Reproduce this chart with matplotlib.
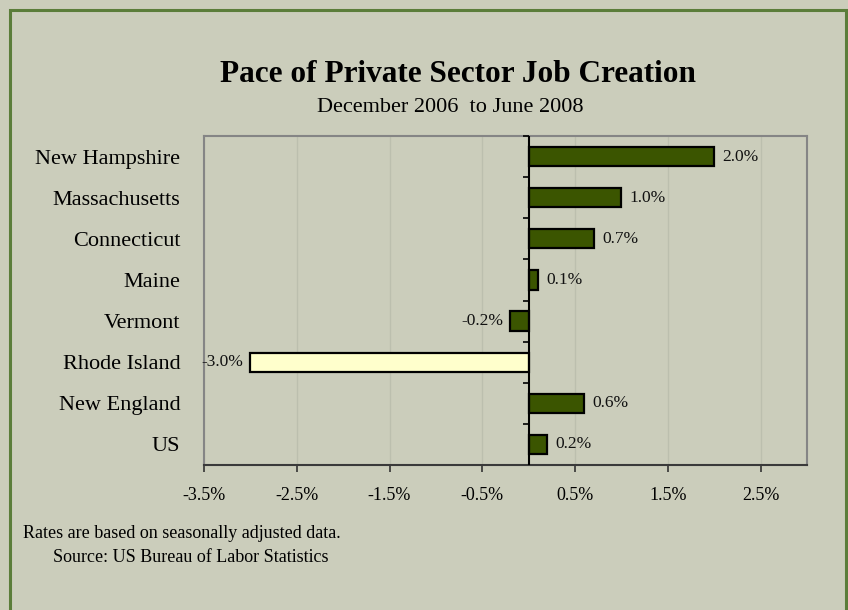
import matplotlib
matplotlib.use('Agg')
from matplotlib import pyplot
from matplotlib import patches
import numpy as np

# job growth, Dec 2006 - Jun 2008 (percent)
regions = ['New Hampshire', 'Massachusetts', 'Connecticut', 'Maine',
           'Vermont', 'Rhode Island', 'New England', 'US']
growth = [2.0, 1.0, 0.7, 0.1, -0.2, -3.0, 0.6, 0.2]
xticks = [-3.5, -2.5, -1.5, -0.5, 0.5, 1.5, 2.5]

bg = '#CBCDBB'
bar_green = '#3B5500'
highlight = '#FFFFCC'
serif = 'Liberation Serif'

fig = pyplot.figure(figsize=(8.48, 6.10), dpi=100, facecolor=bg)
ax = fig.add_axes([204/848, 1 - 465/610, 603/848, 329/610])
ax.set_facecolor(bg)

# regions listed top to bottom
ypos = np.arange(len(regions))[::-1]
colors = [highlight if r == 'Rhode Island' else bar_green for r in regions]
ax.barh(ypos, growth, height=0.47, color=colors, edgecolor='black',
        linewidth=1.6, zorder=3)

ax.set_xlim(-3.5, 3.0)
ax.set_ylim(-0.5, len(regions) - 0.5)

# value labels next to each bar
for y, v in zip(ypos, growth):
    if v >= 0:
        ax.annotate('{:.1f}%'.format(v), (v, y), xytext=(6, 0),
                    textcoords='offset points', ha='left', va='center',
                    fontsize=12.5, family=serif, color='#111111')
    else:
        ax.annotate('{:.1f}%'.format(v), (v, y), xytext=(-5, 0),
                    textcoords='offset points', ha='right', va='center',
                    fontsize=12.5, family=serif, color='#111111')

# x axis
ax.set_xticks(xticks)
ax.set_xticklabels(['{:.1f}%'.format(t) for t in xticks],
                   family=serif, fontsize=13)
ax.tick_params(axis='x', direction='out', length=5, width=1.2,
               color='#333333', pad=11)
ax.grid(axis='x', color='#BCBFAE', linewidth=1.0, zorder=0)

# category labels on the left, no tick marks there
ax.set_yticks(ypos)
ax.set_yticklabels(regions, family=serif, fontsize=16)
ax.tick_params(axis='y', length=0, pad=17)

# zero line with small ticks at the category boundaries
ax.axvline(0, color='black', linewidth=1.5, zorder=4)
bounds = np.arange(len(regions)) - 0.5
ax.plot([0] * len(bounds), bounds + 1, ls='', marker=0, ms=4,
        mew=1.2, color='black', zorder=4, clip_on=False)

for side in ['top', 'right', 'left']:
    ax.spines[side].set_color('#858585')
    ax.spines[side].set_linewidth(1.5)
ax.spines['bottom'].set_color('#3A3A3A')
ax.spines['bottom'].set_linewidth(1.5)

# titles
fig.text(458/848, 1 - 75/610, 'Pace of Private Sector Job Creation',
         ha='center', va='center', fontsize=22.5, fontweight='bold',
         family=serif)
fig.text(450/848, 1 - 107/610, 'December 2006  to June 2008',
         ha='center', va='center', fontsize=16, family=serif)

# notes
fig.text(23/848, 1 - 533/610, 'Rates are based on seasonally adjusted data.',
         ha='left', va='center', fontsize=13, family=serif)
fig.text(53/848, 1 - 557/610, 'Source: US Bureau of Labor Statistics',
         ha='left', va='center', fontsize=13, family=serif)

# outer border
border = patches.Rectangle((10/848, -0.05), 836/848, 1 - 10/610 + 0.05,
                           transform=fig.transFigure, fill=False,
                           edgecolor='#5B7D3A', linewidth=2.2)
fig.patches.append(border)

fig.savefig('out.png', dpi=100, facecolor=bg)
